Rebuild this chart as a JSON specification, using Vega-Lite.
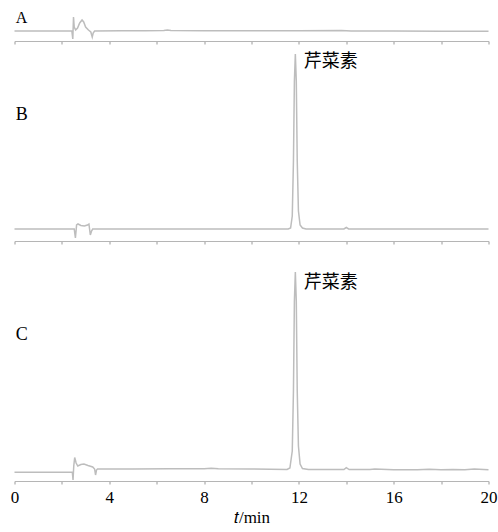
{
  "$schema": "https://vega.github.io/schema/vega-lite/v6.json",
  "padding": {"left": 9.5, "top": 9, "right": 5, "bottom": 5},
  "spacing": 4,
  "config": {
    "view": {"stroke": null},
    "font": "Liberation Serif",
    "style": {"guide-label": {"font": "Liberation Serif", "fontSize": 17, "fill": "#000"}, "guide-title": {"font": "Liberation Serif", "fontSize": 17, "fill": "#000", "fontWeight": "normal"}},
    "axis": {"grid": false, "domainColor": "#b5b5b5", "tickColor": "#9a9a9a", "tickSize": 3, "labelFont": "Liberation Serif", "labelFontSize": 17, "labelColor": "#000", "titleFont": "Liberation Serif", "titleFontSize": 17, "titleFontWeight": "normal", "titleColor": "#000"}
  },
  "datasets": {
    "A": [
      {"t": 0, "v": 10}, {"t": 2.42, "v": 10}, {"t": 2.46, "v": 2}, {"t": 2.49, "v": 24}, {"t": 2.52, "v": 14}, {"t": 2.58, "v": 11}, {"t": 2.66, "v": 13}, {"t": 2.75, "v": 18}, {"t": 2.85, "v": 21}, {"t": 2.92, "v": 19}, {"t": 3.0, "v": 14}, {"t": 3.12, "v": 11}, {"t": 3.22, "v": 9}, {"t": 3.28, "v": 4}, {"t": 3.32, "v": 8}, {"t": 3.38, "v": 10}, {"t": 4.5, "v": 10.3}, {"t": 5.5, "v": 10.2}, {"t": 6.3, "v": 10.5}, {"t": 6.45, "v": 11}, {"t": 6.6, "v": 10.4}, {"t": 8, "v": 10.3}, {"t": 10, "v": 10.3}, {"t": 12, "v": 10.3}, {"t": 13.8, "v": 10.5}, {"t": 14.2, "v": 10}, {"t": 16, "v": 10}, {"t": 18, "v": 9.8}, {"t": 20, "v": 9.8}
    ],
    "B": [
      {"t": 0, "v": 12}, {"t": 2.52, "v": 12}, {"t": 2.57, "v": 3}, {"t": 2.62, "v": 16}, {"t": 2.68, "v": 17}, {"t": 2.8, "v": 15.5}, {"t": 2.95, "v": 15}, {"t": 3.08, "v": 16}, {"t": 3.14, "v": 17}, {"t": 3.2, "v": 6}, {"t": 3.25, "v": 10}, {"t": 3.3, "v": 12}, {"t": 6, "v": 12}, {"t": 10, "v": 12}, {"t": 11.55, "v": 12}, {"t": 11.65, "v": 13}, {"t": 11.72, "v": 25}, {"t": 11.77, "v": 80}, {"t": 11.81, "v": 160}, {"t": 11.85, "v": 187}, {"t": 11.89, "v": 160}, {"t": 11.93, "v": 80}, {"t": 11.98, "v": 30}, {"t": 12.05, "v": 16}, {"t": 12.15, "v": 13}, {"t": 12.3, "v": 12}, {"t": 13.9, "v": 12}, {"t": 14.0, "v": 13.5}, {"t": 14.1, "v": 12}, {"t": 16, "v": 12}, {"t": 18, "v": 12}, {"t": 20, "v": 12}
    ],
    "C": [
      {"t": 0, "v": 8.7}, {"t": 2.44, "v": 8.7}, {"t": 2.47, "v": 1}, {"t": 2.5, "v": 15}, {"t": 2.54, "v": 23.5}, {"t": 2.6, "v": 18}, {"t": 2.67, "v": 15}, {"t": 2.8, "v": 16.5}, {"t": 2.93, "v": 17}, {"t": 3.1, "v": 15.5}, {"t": 3.3, "v": 14}, {"t": 3.38, "v": 12}, {"t": 3.42, "v": 6}, {"t": 3.46, "v": 11}, {"t": 3.5, "v": 12}, {"t": 5, "v": 12}, {"t": 6.5, "v": 12.3}, {"t": 8.0, "v": 12.3}, {"t": 8.3, "v": 12.8}, {"t": 8.6, "v": 12.3}, {"t": 10, "v": 12}, {"t": 11.5, "v": 11.5}, {"t": 11.62, "v": 13}, {"t": 11.72, "v": 30}, {"t": 11.77, "v": 90}, {"t": 11.81, "v": 180}, {"t": 11.85, "v": 209}, {"t": 11.89, "v": 180}, {"t": 11.93, "v": 90}, {"t": 11.98, "v": 35}, {"t": 12.05, "v": 17}, {"t": 12.15, "v": 12.5}, {"t": 12.4, "v": 11.5}, {"t": 13.9, "v": 11.5}, {"t": 14.0, "v": 13.4}, {"t": 14.12, "v": 11.5}, {"t": 15, "v": 11.6}, {"t": 15.2, "v": 12}, {"t": 16, "v": 11.3}, {"t": 17, "v": 11.3}, {"t": 17.5, "v": 11.8}, {"t": 18, "v": 11.3}, {"t": 18.5, "v": 11.6}, {"t": 19, "v": 11.3}, {"t": 19.4, "v": 11.9}, {"t": 20, "v": 11.3}
    ],
    "labA": [{"t": 0.05, "v": 23, "label": "A"}],
    "labB": [{"t": 0.05, "v": 126, "label": "B"}, {"t": 12.2, "v": 179, "label": "芹菜素"}],
    "labC": [{"t": 0.05, "v": 146, "label": "C"}, {"t": 12.2, "v": 198, "label": "芹菜素"}]
  },
  "vconcat": [
    {
      "width": 474, "height": 32,
      "layer": [
        {"data": {"name": "A"}, "mark": {"type": "line", "color": "#bdbdbd", "strokeWidth": 1.5},
         "encoding": {
           "x": {"field": "t", "type": "quantitative", "scale": {"domain": [0, 20], "nice": false}, "axis": {"values": [0,0.5,1,1.5,2,2.5,3,3.5,4,4.5,5,5.5,6,6.5,7,7.5,8,8.5,9,9.5,10,10.5,11,11.5,12,12.5,13,13.5,14,14.5,15,15.5,16,16.5,17,17.5,18,18.5,19,19.5,20], "labels": false, "title": null}},
           "y": {"field": "v", "type": "quantitative", "scale": {"domain": [0, 32], "nice": false, "zero": false}, "axis": null}
         }},
        {"data": {"name": "labA"}, "mark": {"type": "text", "align": "left", "baseline": "middle", "fontSize": 16, "font": "Liberation Serif", "color": "#000"},
         "encoding": {"x": {"field": "t", "type": "quantitative"}, "y": {"field": "v", "type": "quantitative"}, "text": {"field": "label"}}}
      ]
    },
    {
      "width": 474, "height": 192,
      "layer": [
        {"data": {"name": "B"}, "mark": {"type": "line", "color": "#bdbdbd", "strokeWidth": 1.5},
         "encoding": {
           "x": {"field": "t", "type": "quantitative", "scale": {"domain": [0, 20], "nice": false}, "axis": {"values": [0,0.5,1,1.5,2,2.5,3,3.5,4,4.5,5,5.5,6,6.5,7,7.5,8,8.5,9,9.5,10,10.5,11,11.5,12,12.5,13,13.5,14,14.5,15,15.5,16,16.5,17,17.5,18,18.5,19,19.5,20], "labels": false, "title": null}},
           "y": {"field": "v", "type": "quantitative", "scale": {"domain": [0, 192], "nice": false, "zero": false}, "axis": null}
         }},
        {"data": {"name": "labB"}, "mark": {"type": "text", "align": "left", "baseline": "middle", "fontSize": 18, "font": "Liberation Serif, Noto Sans CJK SC", "color": "#000"},
         "encoding": {"x": {"field": "t", "type": "quantitative"}, "y": {"field": "v", "type": "quantitative"}, "text": {"field": "label"}}}
      ]
    },
    {
      "width": 474, "height": 232,
      "layer": [
        {"data": {"name": "C"}, "mark": {"type": "line", "color": "#bdbdbd", "strokeWidth": 1.5},
         "encoding": {
           "x": {"field": "t", "type": "quantitative", "scale": {"domain": [0, 20], "nice": false}, "axis": {"values": [0,0.5,1,1.5,2,2.5,3,3.5,4,4.5,5,5.5,6,6.5,7,7.5,8,8.5,9,9.5,10,10.5,11,11.5,12,12.5,13,13.5,14,14.5,15,15.5,16,16.5,17,17.5,18,18.5,19,19.5,20], "labelExpr": "datum.value % 4 === 0 ? datum.label : ''", "labelFont": "Liberation Serif", "labelFontSize": 17, "labelPadding": 5, "labelFlush": false, "labelOverlap": false, "title": "𝑡/min", "titleFont": "Liberation Serif", "titleFontSize": 17, "titlePadding": 4}},
           "y": {"field": "v", "type": "quantitative", "scale": {"domain": [0, 232], "nice": false, "zero": false}, "axis": null}
         }},
        {"data": {"name": "labC"}, "mark": {"type": "text", "align": "left", "baseline": "middle", "fontSize": 18, "font": "Liberation Serif, Noto Sans CJK SC", "color": "#000"},
         "encoding": {"x": {"field": "t", "type": "quantitative"}, "y": {"field": "v", "type": "quantitative"}, "text": {"field": "label"}}}
      ]
    }
  ]
}
